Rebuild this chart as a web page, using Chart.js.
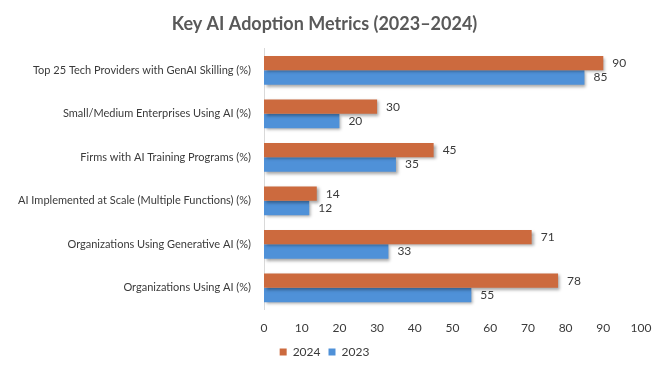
<!DOCTYPE html>
<html>
<head>
<meta charset="utf-8">
<script src="https://cdn.jsdelivr.net/npm/chart.js@4/dist/chart.umd.min.js"></script>
<style>
  html, body { margin: 0; padding: 0; background: #fff; }
  #wrap { width: 663px; height: 371px; }
</style>
</head>
<body>
<div id="wrap"><canvas id="adoptionChart"></canvas></div>
<script>
// chart data
const categories = [
    'Top 25 Tech Providers with GenAI Skilling (%)',
    'Small/Medium Enterprises Using AI (%)',
    'Firms with AI Training Programs (%)',
    'AI Implemented at Scale (Multiple Functions) (%)',
    'Organizations Using Generative AI (%)',
    'Organizations Using AI (%)'
];
const values2024 = [90, 30, 45, 14, 71, 78];
const values2023 = [85, 20, 35, 12, 33, 55];
const xTicks = [0, 10, 20, 30, 40, 50, 60, 70, 80, 90, 100];

const fontFamily = 'Lato, "Open Sans", sans-serif';
const textColor = '#3a3a3a';

//draws the value next to the end of every bar
const valueLabels = {
    id: 'valueLabels',
    afterDatasetsDraw(chart){
        const ctx = chart.ctx;
        ctx.save();
        ctx.font = '12px ' + fontFamily;
        ctx.fillStyle = textColor;
        ctx.textAlign = 'left';
        ctx.textBaseline = 'middle';
        chart.data.datasets.forEach((ds, i) => {
            chart.getDatasetMeta(i).data.forEach((bar, j) => {
                ctx.fillText(ds.data[j], bar.x + 9, bar.y);
            });
        });
        ctx.restore();
    }
};

//soft shadow under the bars like the office chart
const barShadow = {
    id: 'barShadow',
    beforeDatasetDraw(chart){
        const ctx = chart.ctx;
        ctx.save();
        ctx.shadowColor = 'rgba(0,0,0,0.35)';
        ctx.shadowBlur = 3;
        ctx.shadowOffsetX = 2;
        ctx.shadowOffsetY = 2;
    },
    afterDatasetDraw(chart){
        chart.ctx.restore();
    }
};

const myChart = new Chart(document.getElementById('adoptionChart').getContext('2d'), {
    type: 'bar',
    data: {
        labels: categories,
        datasets: [{
            label: '2024',
            data: values2024,
            backgroundColor: '#CC6A3E',
            categoryPercentage: 0.66,
            barPercentage: 1
        }, {
            label: '2023',
            data: values2023,
            backgroundColor: '#4F91D8',
            categoryPercentage: 0.66,
            barPercentage: 1
        }]
    },
    options: {
        indexAxis: 'y',
        responsive: true,
        maintainAspectRatio: false,
        animation: false,
        layout: { padding: { left: 8, right: 22, top: 4, bottom: 3 } },
        scales: {
            x: {
                min: 0,
                max: 100,
                afterBuildTicks(axis){
                    axis.ticks = xTicks.map(v => ({ value: v }));
                },
                grid: { display: false },
                border: { display: false },
                ticks: {
                    color: textColor,
                    font: { family: fontFamily, size: 12 },
                    padding: 3
                }
            },
            y: {
                afterFit(axis){ axis.width = 256; },
                grid: { display: false },
                border: { display: true, color: '#D9D9D9' },
                ticks: {
                    color: textColor,
                    font: { family: fontFamily, size: 11 },
                    padding: 5
                }
            }
        },
        plugins: {
            title: {
                display: true,
                text: 'Key AI Adoption Metrics (2023–2024)',
                color: '#595959',
                font: { family: fontFamily, size: 18, weight: 'bold' },
                padding: { top: 9, bottom: 14 }
            },
            legend: {
                position: 'bottom',
                labels: {
                    color: textColor,
                    font: { family: fontFamily, size: 12 },
                    boxWidth: 7,
                    boxHeight: 7,
                    padding: 8
                }
            },
            tooltip: { enabled: false }
        }
    },
    plugins: [barShadow, valueLabels]
});
</script>
</body>
</html>
